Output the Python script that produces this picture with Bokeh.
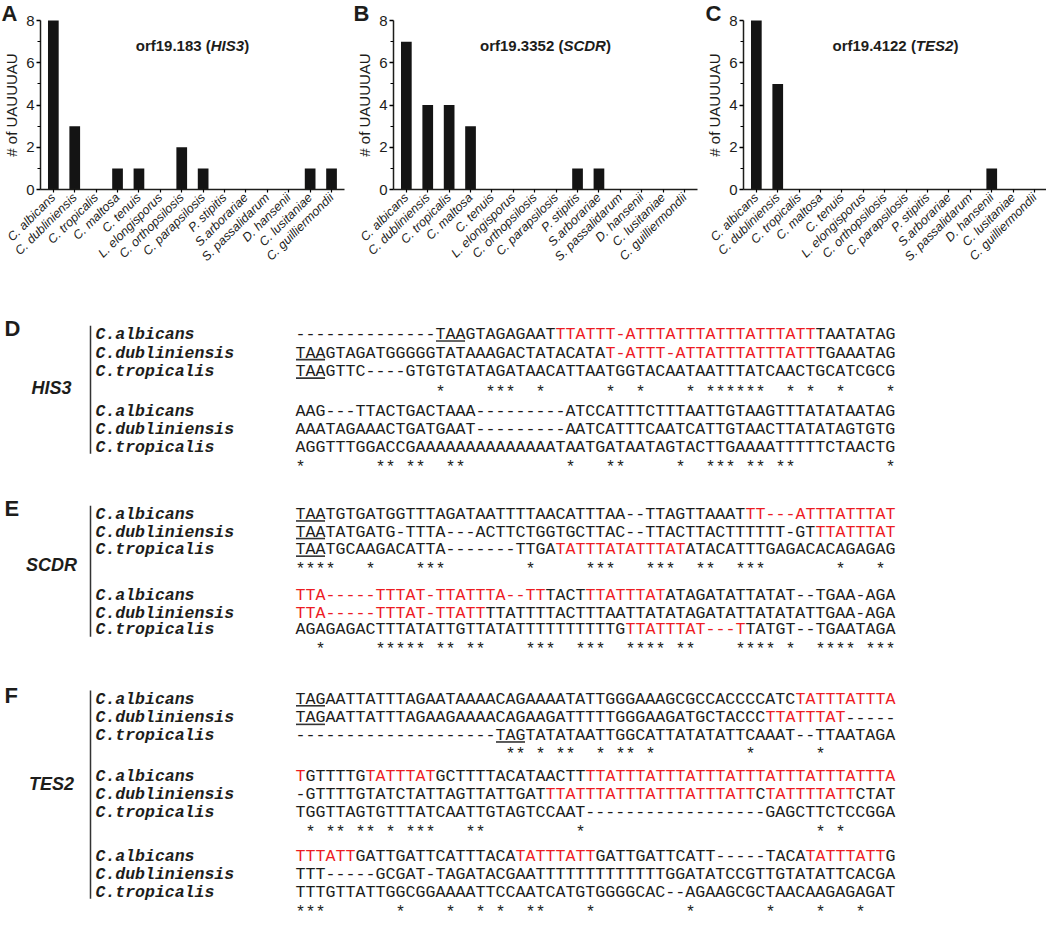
import math
from bokeh.plotting import figure
from bokeh.models import Range1d, FixedTicker, Label, ColumnDataSource, LinearAxis
from bokeh.layouts import column, row
from bokeh.embed import file_html
from bokeh.resources import INLINE
from bokeh.core.properties import value

# ---------------- data: bar charts ----------------
species = ["C. albicans", "C. dubliniensis", "C. tropicalis", "C. maltosa", "C. tenuis",
           "L. elongisporus", "C. orthopsilosis", "C. parapsilosis", "P. stipitis",
           "S.arborariae", "S. passalidarum", "D. hansenii", "C. lusitaniae",
           "C. guilliermondii"]
his3_counts = [8, 3, 0, 1, 1, 0, 2, 1, 0, 0, 0, 0, 1, 1]
scdr_counts = [7, 4, 4, 3, 0, 0, 0, 0, 1, 1, 0, 0, 0, 0]
tes2_counts = [8, 5, 0, 0, 0, 0, 0, 0, 0, 0, 0, 1, 0, 0]
y_ticks = [0, 2, 4, 6, 8]
y_minor_ticks = [1, 3, 5, 7]
y_label = "# of UAUUUAU"
panel_titles = [("A", "orf19.183 (", "HIS3", ")"),
                ("B", "orf19.3352 (", "SCDR", ")"),
                ("C", "orf19.4122 (", "TES2", ")")]

# ---------------- data: alignments ----------------
names = ["C.albicans", "C.dubliniensis", "C.tropicalis"]

his3_b1 = ["--------------TAAGTAGAGAATTTATTT-ATTTATTTATTTATTTATTTAATATAG",
           "TAAGTAGATGGGGGTATAAAGACTATACATAT-ATTT-ATTATTTATTTATTTGAAATAG",
           "TAAGTTC----GTGTGTATAGATAACATTAATGGTACAATAATTTATCAACTGCATCGCG"]
his3_b1_red = [[(27, 52)], [(32, 52)], []]
his3_b1_stars = [15, 20, 21, 22, 25, 32, 35, 40, 42, 43, 44, 45, 46, 47, 50, 52, 55, 60]
his3_b1_uline = [15, 1, 1]
his3_b2 = ["AAG---TTACTGACTAAA---------ATCCATTTCTTTAATTGTAAGTTTATATAATAG",
           "AAATAGAAACTGATGAAT---------AATCATTTCAATCATTGTAACTTATATAGTGTG",
           "AGGTTTGGACCGAAAAAAAAAAAAAATAATGATAATAGTACTTGAAAATTTTTCTAACTG"]
his3_b2_red = [[], [], []]
his3_b2_stars = [1, 9, 10, 12, 13, 16, 17, 28, 32, 33, 39, 42, 43, 44, 46, 47, 49, 50, 60]

scdr_b1 = ["TAATGTGATGGTTTAGATAATTTTAACATTTAA--TTAGTTAAATTT---ATTTATTTAT",
           "TAATATGATG-TTTA---ACTTCTGGTGCTTAC--TTACTTACTTTTTT-GTTTATTTAT",
           "TAATGCAAGACATTA-------TTGATATTTATATTTATATACATTTGAGACACAGAGAG"]
scdr_b1_red = [[(46, 60)], [(53, 60)], [(27, 39)]]
scdr_b1_stars = [1, 2, 3, 4, 8, 13, 14, 15, 24, 30, 31, 32, 36, 37, 38, 41, 42, 45, 46, 47, 55, 59]
scdr_b1_uline = [1, 1, 1]
scdr_b2 = ["TTA-----TTTAT-TTATTTA--TTTACTTTATTTATATAGATATTATAT--TGAA-AGA",
           "TTA-----TTTAT-TTATTTTATTTTACTTTAATTATATAGATATTATATATTGAA-AGA",
           "AGAGAGACTTTATATTGTTATATTTTTTTTTTGTTATTTAT---TTATGT--TGAATAGA"]
scdr_b2_red = [[(1, 25), (30, 37)], [(1, 19)], [(34, 45)]]
scdr_b2_stars = [3, 9, 10, 11, 12, 13, 15, 16, 18, 19, 24, 25, 26, 29, 30, 31, 34, 35, 36, 37,
                 39, 40, 45, 46, 47, 48, 50, 53, 54, 55, 56, 58, 59, 60]

tes2_b1 = ["TAGAATTATTTAGAATAAAACAGAAAATATTGGGAAAGCGCCACCCCATCTATTTATTTA",
           "TAGAATTATTTAGAAGAAAACAGAAGATTTTTGGGAAGATGCTACCCTTATTTAT-----",
           "--------------------TAGTATATAATTGGCATTATATATTCAAAT--TTAATAGA"]
tes2_b1_red = [[(51, 60)], [(48, 55)], []]
tes2_b1_stars = [22, 23, 25, 27, 28, 31, 33, 34, 36, 46, 53]
tes2_b1_uline = [1, 1, 21]
tes2_b2 = ["TGTTTTGTATTTATGCTTTTACATAACTTTTATTTATTTATTTATTTATTTATTTATTTA",
           "-GTTTTGTATCTATTAGTTATTGATTTATTTATTTATTTATTTATTCTATTTTATTCTAT",
           "TGGTTAGTGTTTATCAATTGTAGTCCAAT------------------GAGCTTCTCCGGA"]
tes2_b2_red = [[(1, 1), (8, 14), (30, 60)], [(26, 46), (48, 56)], []]
tes2_b2_stars = [2, 4, 5, 7, 8, 10, 12, 13, 14, 18, 19, 29, 53, 55]
tes2_b3 = ["TTTATTGATTGATTCATTTACATATTTATTGATTGATTCATT-----TACATATTTATTG",
           "TTT-----GCGAT-TAGATACGAATTTTTTTTTTTTTGGATATCCGTTGTATATTCACGA",
           "TTTGTTATTGGCGGAAAATTCCAATCATGTGGGGCAC--AGAAGCGCTAACAAGAGAGAT"]
tes2_b3_red = [[(1, 6), (23, 30), (52, 59)], [], []]
tes2_b3_stars = [1, 2, 3, 11, 16, 19, 21, 24, 25, 30, 40, 48, 53, 57]

gene_labels = [("D", "HIS3"), ("E", "SCDR"), ("F", "TES2")]

for blk in (his3_b1, his3_b2, scdr_b1, scdr_b2, tes2_b1, tes2_b2, tes2_b3):
    for s in blk:
        if len(s) != 60:
            raise ValueError("bad length %d: %s" % (len(s), s))

# ---------------- styling ----------------
RED = "#ed1c24"
BLACK = "#1d1d1b"
SANS = "Liberation Sans"
MONO = "Liberation Mono"

TOP_H = 268
AXIS_Y_PX = 189          # y=0 line, px from figure top
PPU_Y = 169 / 8.0        # px per count
PPU_X = 21.4             # px per category


def bar_panel(letter, t1, t2, t3, counts, width, ax_px, letter_dx):
    x0 = -0.6 - ax_px / PPU_X
    x1 = x0 + width / PPU_X
    ytop = AXIS_Y_PX / PPU_Y
    ybot = -(TOP_H - AXIS_Y_PX) / PPU_Y
    p = figure(width=width, height=TOP_H, x_range=Range1d(x0, x1), y_range=Range1d(ybot, ytop),
               output_backend="svg", toolbar_location=None, y_axis_location=None,
               x_axis_location=None, min_border=0)
    p.outline_line_color = None
    p.grid.visible = False
    p.background_fill_color = None
    p.border_fill_color = "white"
    xs = list(range(len(species)))
    p.vbar(x=xs, top=counts, bottom=0, width=0.5, fill_color="#141414", line_color=None)

    yax = LinearAxis(fixed_location=-0.6, bounds=(0, 8))
    yax.ticker = FixedTicker(ticks=y_ticks, minor_ticks=y_minor_ticks)
    yax.axis_label = y_label
    yax.axis_label_text_font = SANS
    yax.axis_label_text_font_style = "normal"
    yax.axis_label_text_font_size = "15px"
    yax.axis_label_text_color = BLACK
    yax.axis_label_standoff = 3
    yax.major_label_text_font = SANS
    yax.major_label_text_font_size = "15px"
    yax.major_label_text_color = BLACK
    yax.major_label_standoff = 2
    yax.major_tick_out = 4
    yax.major_tick_in = 0
    yax.minor_tick_out = 3
    yax.minor_tick_in = 0
    yax.axis_line_width = 1.5
    yax.major_tick_line_width = 1.5
    yax.minor_tick_line_width = 1.2
    yax.axis_line_color = BLACK
    p.add_layout(yax, "left")

    xax = LinearAxis(fixed_location=0, bounds=(-0.6, 13.6))
    xax.ticker = FixedTicker(ticks=xs, minor_ticks=[])
    xax.major_label_overrides = {i: s for i, s in enumerate(species)}
    xax.major_label_orientation = math.pi / 4
    xax.major_label_text_font = SANS
    xax.major_label_text_font_style = "italic"
    xax.major_label_text_font_size = "12.5px"
    xax.major_label_text_color = BLACK
    xax.major_label_standoff = 3
    xax.major_tick_out = 3
    xax.major_tick_in = 0
    xax.axis_line_width = 1.5
    xax.major_tick_line_width = 1.2
    xax.axis_line_color = BLACK
    p.add_layout(xax, "below")

    # title made of three pieces (bold, bold italic, bold)
    em = {"o": .611, "r": .389, "f": .333, "1": .556, "9": .556, ".": .278, "8": .556, "3": .556,
          "5": .556, "2": .556, "4": .556, " ": .278, "(": .333, ")": .333, "H": .722, "I": .278,
          "S": .667, "C": .722, "D": .722, "R": .722, "T": .611, "E": .667}
    fs = 15
    w1 = sum(em[c] for c in t1) * fs
    w2 = sum(em[c] for c in t2) * fs
    w3 = sum(em[c] for c in t3) * fs
    start = -(w1 + w2 + w3) / 2
    for txt, style, off in ((t1, "bold", start), (t2, "bold italic", start + w1),
                            (t3, "bold", start + w1 + w2)):
        p.add_layout(Label(x=6.5, y=6.82, x_offset=off, text=txt, text_font=SANS,
                           text_font_style=style, text_font_size="15px", text_color=BLACK,
                           text_align="left", text_baseline="middle"))
    p.add_layout(Label(x=x0, y=ytop, x_offset=letter_dx, y_offset=0, text=letter, text_font=SANS,
                       text_font_style="bold", text_font_size="22px", text_color=BLACK,
                       text_align="left", text_baseline="top"))
    return p


p1 = bar_panel(*panel_titles[0], his3_counts, 353, 40, 1)
p2 = bar_panel(*panel_titles[1], scdr_counts, 350, 40, 0)
p3 = bar_panel(*panel_titles[2], tes2_counts, 343, 40, 2)

# ---------------- alignment panel ----------------
BW, BH = 1046, 924 - TOP_H
q = figure(width=BW, height=BH, x_range=Range1d(0, BW), y_range=Range1d(BH, 0),
           output_backend="svg", toolbar_location=None, min_border=0,
           x_axis_location=None, y_axis_location=None)
q.outline_line_color = None
q.background_fill_color = None
q.border_fill_color = "white"
q.grid.visible = False

X0 = 295             # left edge of first alignment column
CW = 10.0            # column width (px)
NAME_X = 95
MID_ADJ = 1.1        # visual centre of capitals -> 'middle' anchor
STAR_ADJ = 4.4       # visual centre of '*' -> 'middle' anchor
SQUEEZE = 0.978      # slight vertical compression so the last row fits the window


def fy(ref_y):
    """reference page y -> alignment-figure y"""
    return 333 + (ref_y - 333) * SQUEEZE - TOP_H


blocks = [
    (his3_b1, his3_b1_red, his3_b1_stars, his3_b1_uline, [333, 352, 371], 389),
    (his3_b2, his3_b2_red, his3_b2_stars, None, [412, 430, 448], 466),
    (scdr_b1, scdr_b1_red, scdr_b1_stars, scdr_b1_uline, [517, 535, 553], 570),
    (scdr_b2, scdr_b2_red, scdr_b2_stars, None, [600, 618, 635], 652),
    (tes2_b1, tes2_b1_red, tes2_b1_stars, tes2_b1_uline, [706, 725, 743], 759),
    (tes2_b2, tes2_b2_red, tes2_b2_stars, None, [785, 803, 822], 839),
    (tes2_b3, tes2_b3_red, tes2_b3_stars, None, [867, 885, 903], 921),
]

seq_x, seq_y, seq_t, seq_c = [], [], [], []
nm_x, nm_y, nm_t = [], [], []
st_x, st_y, st_t = [], [], []
ul_x0, ul_x1, ul_y = [], [], []


def col_x(k):
    return X0 + (k - 1) * CW


for seqs, reds, stars, uline, ys, star_y in blocks:
    for li, (s, rr, yc) in enumerate(zip(seqs, reds, ys)):
        yv = fy(yc)
        colors = [BLACK] * len(s)
        for a, b in rr:
            for i in range(a - 1, b):
                colors[i] = RED
        start = 0
        for i in range(1, len(s) + 1):
            if i == len(s) or colors[i] != colors[start]:
                seq_x.append(col_x(start + 1))
                seq_y.append(yv + MID_ADJ)
                seq_t.append(s[start:i])
                seq_c.append(colors[start])
                start = i
        nm_x.append(NAME_X)
        nm_y.append(yv + MID_ADJ)
        nm_t.append(names[li])
        if uline is not None:
            ul_x0.append(col_x(uline[li]) + 0.5)
            ul_x1.append(col_x(uline[li] + 3) - 0.5)
            ul_y.append(yv + 7.5)
    sv = min(fy(star_y) + STAR_ADJ, BH - 9.6)
    run_start = stars[0]
    prev = stars[0]
    for k in stars[1:] + [None]:
        if k is None or k != prev + 1:
            st_x.append(col_x(run_start))
            st_y.append(sv)
            st_t.append("*" * (prev - run_start + 1))
            if k is not None:
                run_start = k
        if k is not None:
            prev = k

q.text(x="x", y="y", text="t", text_color="c",
       source=ColumnDataSource(dict(x=seq_x, y=seq_y, t=seq_t, c=seq_c)),
       text_font=value(MONO), text_font_size=value("16.667px"),
       text_align=value("left"), text_baseline=value("middle"))
q.text(x=st_x, y=st_y, text=st_t, text_color=BLACK,
       text_font=value(MONO), text_font_size=value("16.667px"),
       text_align=value("left"), text_baseline=value("middle"))
q.text(x=nm_x, y=nm_y, text=nm_t, text_color=BLACK,
       text_font=value(MONO), text_font_style=value("bold italic"),
       text_font_size=value("16.5px"),
       text_align=value("left"), text_baseline=value("middle"))
q.segment(x0=ul_x0, y0=ul_y, x1=ul_x1, y1=ul_y, line_color="#333333", line_width=1.6)

# vertical bars, panel letters and gene labels
bar_spans = [(325, 456), (509, 643), (698, 911)]
letter_y = [328, 512, 703]
gene_y = [389, 570, 794]
q.segment(x0=[90] * 3, y0=[fy(a) for a, b in bar_spans], x1=[90] * 3,
          y1=[fy(b) for a, b in bar_spans], line_color="#333333", line_width=1.5)
q.text(x=[4] * 3, y=[fy(v) for v in letter_y], text=[g[0] for g in gene_labels],
       text_color=BLACK, text_font=value(SANS), text_font_style=value("bold"),
       text_font_size=value("22px"), text_align=value("left"), text_baseline=value("middle"))
q.text(x=[51] * 3, y=[fy(v) for v in gene_y], text=[g[1] for g in gene_labels],
       text_color=BLACK, text_font=value(SANS), text_font_style=value("bold italic"),
       text_font_size=value("18px"), text_align=value("center"), text_baseline=value("middle"))

layout = column(row(p1, p2, p3, spacing=0), q, spacing=0)
open("out.html", "w").write(file_html(layout, INLINE))
